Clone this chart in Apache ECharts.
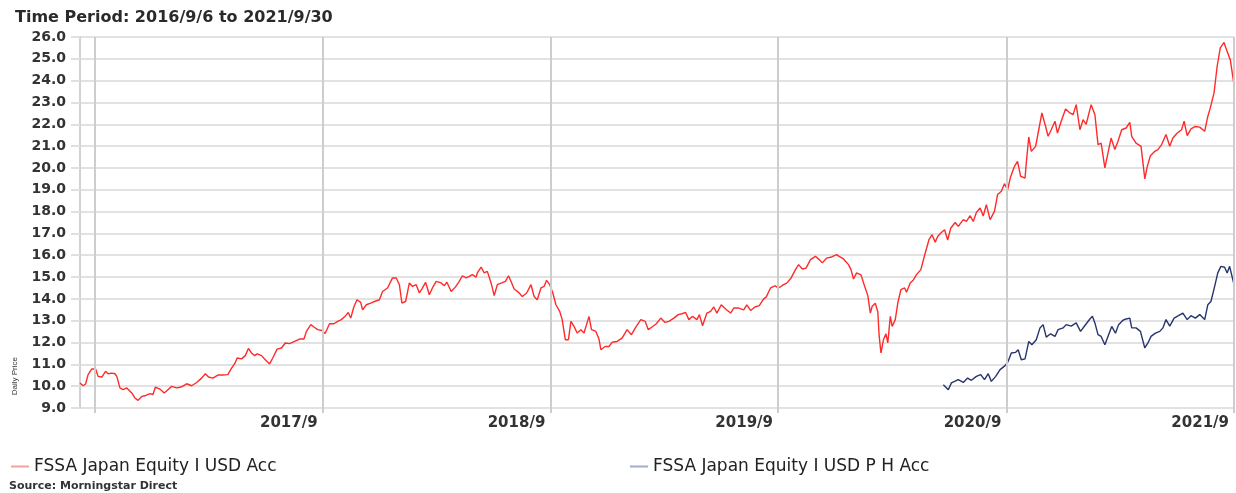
<!DOCTYPE html>
<html>
<head>
<meta charset="utf-8">
<title>FSSA Japan Equity - Daily Price</title>
<script src="https://cdn.jsdelivr.net/npm/echarts@6/dist/echarts.min.js"></script>
<style>
  html, body { margin: 0; padding: 0; background: #ffffff; }
  #chart { width: 1236px; height: 493px; }
</style>
</head>
<body>
<div id="chart"></div>
<script>
const FONT = 'DejaVu Sans'

const accName = 'FSSA Japan Equity I USD Acc'
const phName = 'FSSA Japan Equity I USD P H Acc'

// 年末(9/30)的竖线 和 x轴标签
const yearLines = ['2016-09-30', '2017-09-30', '2018-09-30', '2019-09-30', '2020-09-30', '2021-09-30']
const xTickLabels = ['2017/9', '2018/9', '2019/9', '2020/9', '2021/9']

// FSSA Japan Equity I USD Acc
const accPrices = [
  ['2016-09-06', 10.15], ['2016-09-08', 10.17], ['2016-09-11', 10.02], ['2016-09-15', 10.1], ['2016-09-19', 10.53],
  ['2016-09-25', 10.79], ['2016-10-01', 10.79], ['2016-10-05', 10.45], ['2016-10-11', 10.42], ['2016-10-17', 10.68],
  ['2016-10-21', 10.57], ['2016-10-27', 10.6], ['2016-11-01', 10.57], ['2016-11-04', 10.45], ['2016-11-09', 9.92],
  ['2016-11-14', 9.84], ['2016-11-20', 9.92], ['2016-11-22', 9.84], ['2016-11-28', 9.69], ['2016-12-03', 9.46],
  ['2016-12-08', 9.35], ['2016-12-14', 9.53], ['2016-12-19', 9.56], ['2016-12-27', 9.66], ['2017-01-01', 9.62],
  ['2017-01-05', 9.96], ['2017-01-12', 9.87], ['2017-01-19', 9.69], ['2017-01-25', 9.84], ['2017-01-31', 9.99],
  ['2017-02-08', 9.92], ['2017-02-15', 9.96], ['2017-02-24', 10.11], ['2017-03-04', 10.02], ['2017-03-12', 10.17],
  ['2017-03-20', 10.37], ['2017-03-26', 10.57], ['2017-03-31', 10.42], ['2017-04-07', 10.37], ['2017-04-15', 10.51],
  ['2017-04-23', 10.51], ['2017-05-01', 10.53], ['2017-05-07', 10.83], ['2017-05-12', 11.03], ['2017-05-16', 11.29],
  ['2017-05-23', 11.25], ['2017-05-29', 11.4], ['2017-06-03', 11.73], ['2017-06-08', 11.52], ['2017-06-13', 11.4],
  ['2017-06-17', 11.48], ['2017-06-24', 11.4], ['2017-06-30', 11.21], ['2017-07-07', 11.02], ['2017-07-12', 11.29],
  ['2017-07-19', 11.7], ['2017-07-26', 11.75], ['2017-08-01', 11.98], ['2017-08-08', 11.95], ['2017-08-16', 12.05],
  ['2017-08-24', 12.16], ['2017-08-31', 12.16], ['2017-09-04', 12.51], ['2017-09-11', 12.82], ['2017-09-16', 12.71],
  ['2017-09-22', 12.59], ['2017-09-29', 12.55], ['2017-10-04', 12.41], ['2017-10-11', 12.86], ['2017-10-18', 12.86],
  ['2017-10-24', 12.97], ['2017-10-30', 13.05], ['2017-11-05', 13.2], ['2017-11-10', 13.38], ['2017-11-14', 13.12],
  ['2017-11-19', 13.63], ['2017-11-24', 13.96], ['2017-11-30', 13.84], ['2017-12-03', 13.5], ['2017-12-09', 13.73],
  ['2017-12-16', 13.81], ['2017-12-22', 13.88], ['2017-12-30', 13.96], ['2018-01-04', 14.34], ['2018-01-12', 14.5],
  ['2018-01-20', 14.96], ['2018-01-26', 14.96], ['2018-01-31', 14.65], ['2018-02-04', 13.81], ['2018-02-10', 13.88],
  ['2018-02-16', 14.73], ['2018-02-21', 14.57], ['2018-02-27', 14.65], ['2018-03-04', 14.27], ['2018-03-08', 14.45],
  ['2018-03-14', 14.76], ['2018-03-20', 14.19], ['2018-03-25', 14.5], ['2018-03-31', 14.8], ['2018-04-08', 14.73],
  ['2018-04-13', 14.6], ['2018-04-17', 14.77], ['2018-04-24', 14.34], ['2018-05-01', 14.55], ['2018-05-07', 14.8],
  ['2018-05-12', 15.06], ['2018-05-18', 14.96], ['2018-05-23', 15.03], ['2018-05-28', 15.11], ['2018-06-03', 15.0],
  ['2018-06-05', 15.19], ['2018-06-11', 15.46], ['2018-06-16', 15.19], ['2018-06-21', 15.26], ['2018-06-27', 14.73],
  ['2018-07-02', 14.15], ['2018-07-07', 14.65], ['2018-07-14', 14.73], ['2018-07-20', 14.8], ['2018-07-25', 15.06],
  ['2018-07-29', 14.8], ['2018-08-03', 14.45], ['2018-08-10', 14.3], ['2018-08-16', 14.11], ['2018-08-23', 14.27],
  ['2018-08-30', 14.65], ['2018-09-04', 14.11], ['2018-09-09', 13.96], ['2018-09-15', 14.5], ['2018-09-20', 14.57],
  ['2018-09-24', 14.85], ['2018-09-29', 14.65], ['2018-10-04', 14.27], ['2018-10-09', 13.73], ['2018-10-15', 13.43],
  ['2018-10-19', 13.05], ['2018-10-24', 12.13], ['2018-10-29', 12.13], ['2018-11-02', 12.97], ['2018-11-07', 12.74],
  ['2018-11-12', 12.44], ['2018-11-18', 12.59], ['2018-11-23', 12.44], ['2018-12-01', 13.2], ['2018-12-05', 12.59],
  ['2018-12-12', 12.51], ['2018-12-17', 12.16], ['2018-12-20', 11.67], ['2018-12-27', 11.82], ['2019-01-02', 11.82],
  ['2019-01-07', 12.01], ['2019-01-15', 12.05], ['2019-01-23', 12.2], ['2019-01-31', 12.59], ['2019-02-07', 12.36],
  ['2019-02-14', 12.71], ['2019-02-22', 13.05], ['2019-03-01', 12.97], ['2019-03-06', 12.59], ['2019-03-12', 12.71],
  ['2019-03-19', 12.86], ['2019-03-26', 13.12], ['2019-04-02', 12.92], ['2019-04-08', 12.97], ['2019-04-16', 13.12],
  ['2019-04-23', 13.28], ['2019-04-29', 13.32], ['2019-05-05', 13.38], ['2019-05-10', 13.05], ['2019-05-16', 13.2],
  ['2019-05-23', 13.05], ['2019-05-27', 13.28], ['2019-06-01', 12.77], ['2019-06-08', 13.35], ['2019-06-14', 13.43],
  ['2019-06-19', 13.63], ['2019-06-24', 13.35], ['2019-07-01', 13.73], ['2019-07-08', 13.54], ['2019-07-16', 13.35],
  ['2019-07-21', 13.58], ['2019-07-29', 13.58], ['2019-08-06', 13.5], ['2019-08-11', 13.73], ['2019-08-17', 13.47],
  ['2019-08-24', 13.63], ['2019-08-31', 13.69], ['2019-09-07', 14.0], ['2019-09-11', 14.08], ['2019-09-18', 14.5],
  ['2019-09-25', 14.6], ['2019-10-01', 14.5], ['2019-10-09', 14.65], ['2019-10-14', 14.72], ['2019-10-21', 14.96],
  ['2019-10-28', 15.34], ['2019-11-02', 15.57], ['2019-11-08', 15.37], ['2019-11-14', 15.41], ['2019-11-21', 15.8],
  ['2019-11-29', 15.95], ['2019-12-05', 15.8], ['2019-12-10', 15.65], ['2019-12-17', 15.87], ['2019-12-25', 15.92],
  ['2020-01-02', 16.03], ['2020-01-06', 15.95], ['2020-01-13', 15.83], ['2020-01-21', 15.57], ['2020-01-25', 15.34],
  ['2020-01-29', 14.91], ['2020-02-03', 15.19], ['2020-02-10', 15.1], ['2020-02-16', 14.57], ['2020-02-21', 14.15],
  ['2020-02-25', 13.35], ['2020-02-28', 13.66], ['2020-03-04', 13.8], ['2020-03-08', 13.4], ['2020-03-10', 12.36],
  ['2020-03-13', 11.52], ['2020-03-17', 12.13], ['2020-03-21', 12.4], ['2020-03-24', 11.98], ['2020-03-28', 13.2],
  ['2020-03-31', 12.74], ['2020-04-05', 13.05], ['2020-04-09', 13.81], ['2020-04-14', 14.42], ['2020-04-20', 14.5],
  ['2020-04-23', 14.3], ['2020-04-29', 14.73], ['2020-05-04', 14.87], ['2020-05-09', 15.11], ['2020-05-16', 15.34],
  ['2020-05-23', 16.1], ['2020-05-29', 16.71], ['2020-06-03', 16.94], ['2020-06-08', 16.6], ['2020-06-12', 16.86],
  ['2020-06-17', 17.02], ['2020-06-23', 17.17], ['2020-06-28', 16.7], ['2020-07-03', 17.25], ['2020-07-10', 17.5],
  ['2020-07-15', 17.32], ['2020-07-23', 17.63], ['2020-07-28', 17.55], ['2020-08-03', 17.81], ['2020-08-08', 17.55],
  ['2020-08-13', 17.96], ['2020-08-19', 18.17], ['2020-08-24', 17.8], ['2020-08-29', 18.32], ['2020-09-04', 17.63],
  ['2020-09-11', 18.01], ['2020-09-16', 18.78], ['2020-09-22', 18.93], ['2020-09-27', 19.28], ['2020-10-02', 19.0],
  ['2020-10-07', 19.61], ['2020-10-13', 20.07], ['2020-10-18', 20.3], ['2020-10-23', 19.61], ['2020-10-30', 19.54],
  ['2020-11-01', 20.23], ['2020-11-05', 21.42], ['2020-11-09', 20.76], ['2020-11-16', 20.99], ['2020-11-21', 21.75],
  ['2020-11-26', 22.52], ['2020-12-02', 21.9], ['2020-12-06', 21.45], ['2020-12-11', 21.75], ['2020-12-17', 22.14],
  ['2020-12-21', 21.6], ['2020-12-27', 22.14], ['2021-01-03', 22.7], ['2021-01-10', 22.52], ['2021-01-15', 22.44],
  ['2021-01-20', 22.9], ['2021-01-26', 21.75], ['2021-01-31', 22.21], ['2021-02-05', 22.0], ['2021-02-13', 22.9],
  ['2021-02-19', 22.44], ['2021-02-24', 21.07], ['2021-03-01', 21.14], ['2021-03-07', 20.0], ['2021-03-12', 20.69],
  ['2021-03-17', 21.37], ['2021-03-23', 20.84], ['2021-03-28', 21.22], ['2021-04-03', 21.75], ['2021-04-10', 21.83],
  ['2021-04-16', 22.09], ['2021-04-19', 21.45], ['2021-04-26', 21.14], ['2021-05-04', 20.99], ['2021-05-10', 19.5],
  ['2021-05-14', 20.07], ['2021-05-19', 20.56], ['2021-05-26', 20.76], ['2021-05-31', 20.84], ['2021-06-06', 21.07],
  ['2021-06-13', 21.53], ['2021-06-19', 20.99], ['2021-06-24', 21.37], ['2021-07-01', 21.6], ['2021-07-08', 21.75],
  ['2021-07-12', 22.14], ['2021-07-17', 21.48], ['2021-07-23', 21.79], ['2021-07-30', 21.9], ['2021-08-06', 21.87],
  ['2021-08-14', 21.68], ['2021-08-19', 22.36], ['2021-08-23', 22.75], ['2021-08-29', 23.44], ['2021-09-03', 24.66],
  ['2021-09-08', 25.5], ['2021-09-14', 25.75], ['2021-09-17', 25.5], ['2021-09-21', 25.19], ['2021-09-24', 24.96],
  ['2021-09-30', 23.82]
]

// FSSA Japan Equity I USD P H Acc (2020/6 起)
const phPrices = [
  ['2020-06-21', 10.07], ['2020-06-29', 9.84], ['2020-07-04', 10.15], ['2020-07-15', 10.3], ['2020-07-23', 10.17],
  ['2020-07-30', 10.37], ['2020-08-05', 10.27], ['2020-08-13', 10.45], ['2020-08-20', 10.53], ['2020-08-26', 10.3],
  ['2020-09-01', 10.57], ['2020-09-06', 10.22], ['2020-09-13', 10.45], ['2020-09-20', 10.76], ['2020-09-28', 10.94],
  ['2020-10-03', 11.14], ['2020-10-08', 11.52], ['2020-10-15', 11.55], ['2020-10-19', 11.67], ['2020-10-24', 11.21],
  ['2020-10-30', 11.25], ['2020-11-05', 12.05], ['2020-11-10', 11.9], ['2020-11-17', 12.13], ['2020-11-23', 12.67],
  ['2020-11-28', 12.82], ['2020-12-03', 12.25], ['2020-12-10', 12.4], ['2020-12-17', 12.28], ['2020-12-22', 12.59],
  ['2020-12-30', 12.67], ['2021-01-04', 12.82], ['2021-01-12', 12.75], ['2021-01-20', 12.9], ['2021-01-27', 12.51],
  ['2021-02-03', 12.78], ['2021-02-11', 13.08], ['2021-02-15', 13.2], ['2021-02-19', 12.9], ['2021-02-24', 12.36],
  ['2021-03-01', 12.28], ['2021-03-07', 11.9], ['2021-03-13', 12.36], ['2021-03-18', 12.74], ['2021-03-24', 12.43],
  ['2021-03-29', 12.82], ['2021-04-05', 13.02], ['2021-04-10', 13.08], ['2021-04-16', 13.12], ['2021-04-19', 12.67],
  ['2021-04-26', 12.67], ['2021-05-03', 12.51], ['2021-05-10', 11.75], ['2021-05-15', 11.98], ['2021-05-20', 12.28],
  ['2021-05-27', 12.43], ['2021-06-03', 12.51], ['2021-06-08', 12.67], ['2021-06-13', 13.05], ['2021-06-19', 12.75],
  ['2021-06-26', 13.12], ['2021-07-03', 13.23], ['2021-07-10', 13.35], ['2021-07-17', 13.05], ['2021-07-23', 13.23],
  ['2021-07-30', 13.12], ['2021-08-06', 13.28], ['2021-08-14', 13.05], ['2021-08-19', 13.73], ['2021-08-24', 13.88],
  ['2021-08-30', 14.57], ['2021-09-04', 15.19], ['2021-09-09', 15.49], ['2021-09-15', 15.45], ['2021-09-19', 15.19],
  ['2021-09-23', 15.49], ['2021-09-30', 14.65]
]

// 日期转时间戳，x轴用数值轴承载时间
const toTime = (s) => new Date(s + 'T00:00:00').getTime()
const toSeries = (rows) => rows.map(r => [toTime(r[0]), r[1]])
const lineTimes = yearLines.map(toTime)
const labelTimes = yearLines.slice(1).map(toTime)
const labelMap = {}
labelTimes.forEach((t, i) => { labelMap[t] = xTickLabels[i] })

const chart = echarts.init(document.getElementById('chart'), null, { renderer: 'canvas' })

const option = {
  backgroundColor: '#ffffff',
  animation: false,
  title: [
    {
      text: 'Time Period: 2016/9/6 to 2021/9/30',
      left: 10,
      top: 5,
      textStyle: { fontFamily: FONT, fontSize: 16, fontWeight: 'bold', color: '#2a2a2a' }
    },
    {
      text: 'Source: Morningstar Direct',
      left: 9,
      top: 481,
      padding: 0,
      textStyle: { fontFamily: FONT, fontSize: 11, fontWeight: 'bold', color: '#333' }
    }
  ],
  legend: [
    {
      data: [{ name: accName, itemStyle: { color: '#f5a0a0' } }],
      left: 6,
      top: 453,
      icon: 'rect',
      itemWidth: 18,
      itemHeight: 2,
      itemGap: 6,
      selectedMode: false,
      textStyle: { fontFamily: FONT, fontSize: 17, color: '#222' }
    },
    {
      data: [{ name: phName, itemStyle: { color: '#a3aad0' } }],
      left: 625,
      top: 453,
      icon: 'rect',
      itemWidth: 18,
      itemHeight: 2,
      itemGap: 6,
      selectedMode: false,
      textStyle: { fontFamily: FONT, fontSize: 17, color: '#222' }
    }
  ],
  graphic: [
    {
      type: 'text',
      left: 11,
      top: 357,
      rotation: Math.PI / 2,
      style: {
        text: 'Daily Price',
        font: '8px "Liberation Sans Narrow", "Liberation Sans"',
        fill: '#333'
      }
    }
  ],
  grid: {
    left: 80,
    right: 2,
    top: 37,
    bottom: 85,
    containLabel: false
  },
  xAxis: {
    type: 'value',
    min: toTime('2016-09-06'),
    max: toTime('2021-09-30'),
    axisLine: { show: false },
    splitLine: { show: false },
    axisTick: {
      show: true,
      customValues: lineTimes,
      length: 5,
      lineStyle: { color: '#cdcdcd', width: 2 }
    },
    axisLabel: {
      show: true,
      customValues: labelTimes,
      formatter: (v) => labelMap[v] || '',
      align: 'right',
      padding: [0, 5, 0, 0],
      margin: 8,
      fontFamily: FONT,
      fontSize: 15,
      fontWeight: 'bold',
      color: '#333'
    }
  },
  yAxis: {
    type: 'value',
    min: 9,
    max: 26,
    interval: 1,
    axisLine: { show: true, lineStyle: { color: '#d2d2d2', width: 2 } },
    axisTick: { show: true, length: 9, lineStyle: { color: '#e0e0e0', width: 2 } },
    splitLine: { show: true, lineStyle: { color: '#e2e2e2', width: 2 } },
    axisLabel: {
      formatter: (v) => v.toFixed(1),
      margin: 14,
      fontFamily: FONT,
      fontSize: 14,
      fontWeight: 'bold',
      color: '#333'
    }
  },
  series: [
    {
      name: accName,
      type: 'line',
      data: toSeries(accPrices),
      showSymbol: false,
      symbol: 'none',
      z: 3,
      lineStyle: { color: '#ff2b2b', width: 1.4 },
      itemStyle: { color: '#ff2b2b' },
      markLine: {
        silent: true,
        symbol: ['none', 'none'],
        label: { show: false },
        lineStyle: { color: '#cdcdcd', width: 2, type: 'solid' },
        data: lineTimes.map(t => ({ xAxis: t }))
      }
    },
    {
      name: phName,
      type: 'line',
      data: toSeries(phPrices),
      showSymbol: false,
      symbol: 'none',
      z: 3,
      lineStyle: { color: '#27346e', width: 1.4 },
      itemStyle: { color: '#27346e' }
    }
  ]
}

chart.setOption(option)
window.addEventListener('resize', () => chart.resize())
</script>
</body>
</html>
